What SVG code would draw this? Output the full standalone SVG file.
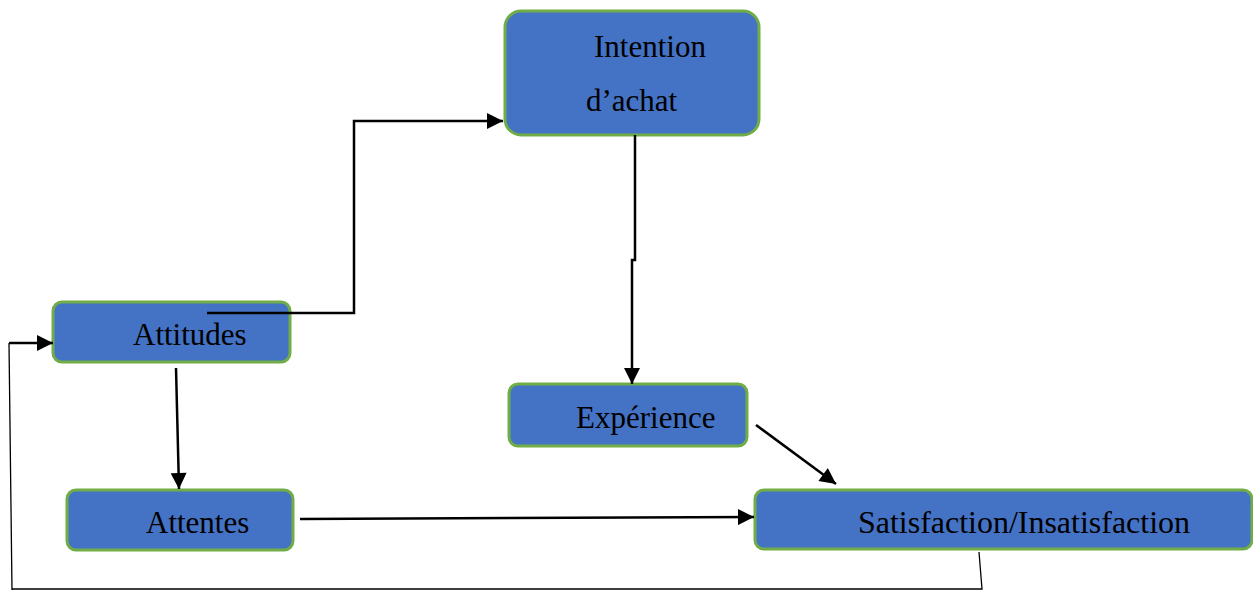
<svg xmlns="http://www.w3.org/2000/svg" width="1253" height="590" viewBox="0 0 1253 590">
<style>
.box{fill:#4472C4;stroke:#70AD47;stroke-width:3}
.lbl{font-family:"Liberation Serif","Times New Roman",serif;font-size:31px;fill:#000}
.c{fill:none;stroke:#000;stroke-width:2.5}
.t{fill:none;stroke:#000;stroke-width:1.3}
</style>
<defs>
<marker id="ah" viewBox="0 0 10 10" refX="10" refY="5" markerWidth="17" markerHeight="16" markerUnits="userSpaceOnUse" orient="auto">
<path d="M0,0 L10,5 L0,10 z" fill="#000"/>
</marker>
</defs>
<rect width="1253" height="590" fill="#fff"/>
<g id="n-intention">
<rect class="box" x="505" y="11" width="254" height="124" rx="16"/>
<text class="lbl" x="594" y="57">Intention</text>
<text class="lbl" x="586" y="111">d’achat</text>
</g>
<g id="n-attitudes">
<rect class="box" x="53" y="302" width="237" height="60" rx="9"/>
<text class="lbl" x="133" y="345">Attitudes</text>
</g>
<g id="n-experience">
<rect class="box" x="509" y="384" width="238" height="62" rx="9"/>
<text class="lbl" x="576" y="428">Expérience</text>
</g>
<g id="n-attentes">
<rect class="box" x="67" y="490" width="226" height="60" rx="9"/>
<text class="lbl" x="146" y="533">Attentes</text>
</g>
<g id="n-satisfaction">
<rect class="box" x="755" y="490" width="497" height="59" rx="9"/>
<text class="lbl" x="858" y="533" textLength="332" lengthAdjust="spacingAndGlyphs">Satisfaction/Insatisfaction</text>
</g>
<g id="connectors">
<polyline class="c" points="207,313 354,313 354,121 503,121" marker-end="url(#ah)"/>
<polyline class="c" points="635,135 635,260 632,260 632,384" marker-end="url(#ah)"/>
<line class="c" x1="756" y1="425" x2="836" y2="484" marker-end="url(#ah)"/>
<line class="c" x1="176" y1="368" x2="179" y2="489" marker-end="url(#ah)"/>
<line class="c" x1="300" y1="519" x2="754" y2="517" marker-end="url(#ah)"/>
<polyline class="t" points="979,552 982,589 12,589"/>
<line class="t" x1="9" y1="343" x2="12" y2="590"/>
<line class="c" x1="9" y1="343" x2="53" y2="343" marker-end="url(#ah)"/>
</g>
</svg>
